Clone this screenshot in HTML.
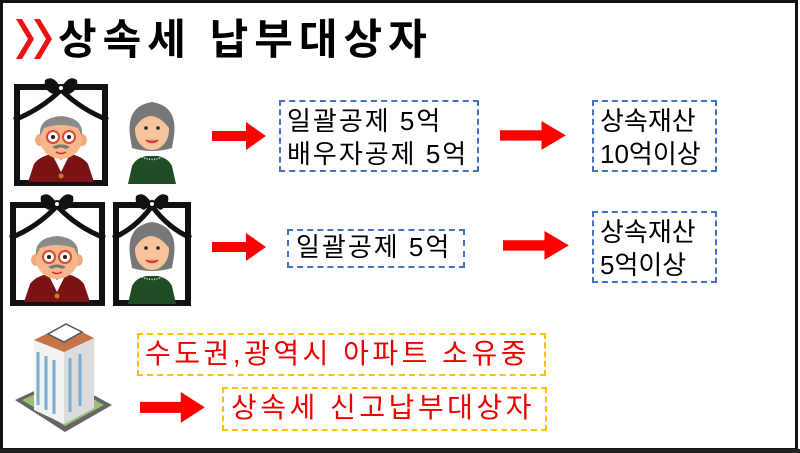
<!DOCTYPE html>
<html><head><meta charset="utf-8">
<style>
html,body{margin:0;padding:0;background:#fff}
#c{position:relative;width:800px;height:453px;overflow:hidden;background:#fff;font-family:"Liberation Sans","Noto Sans CJK KR",sans-serif}
.t{position:absolute;white-space:nowrap;line-height:1}
.bx{position:absolute;box-sizing:border-box}
</style></head><body>
<div id="c">
<svg width="800" height="453" style="position:absolute;left:0;top:0">
<defs>
<g id="gp">
  <path d="M14 98 L20 80 Q26 72 38 70 L56 70 Q68 72 74 80 L80 98 Z" fill="#7a1414"/>
  <path d="M38 70 L47 88 L56 70 Z" fill="#fff"/>
  <path d="M40 70 L47 76 L54 70 Z" fill="#e2462a"/>
  <circle cx="47" cy="92" r="2.5" fill="#c07a3a"/>
  <ellipse cx="26" cy="56" rx="5" ry="6" fill="#f3a97a"/>
  <ellipse cx="68" cy="56" rx="5" ry="6" fill="#f3a97a"/>
  <ellipse cx="47" cy="55" rx="21" ry="20" fill="#f6b68c"/>
  <path d="M26 52 Q24 34 47 32 Q70 34 68 52 L64 44 Q47 38 30 44 Z" fill="#8a8a8a"/>
  <circle cx="39" cy="53" r="6" fill="#fff" stroke="#e2462a" stroke-width="2"/>
  <circle cx="55" cy="53" r="6" fill="#fff" stroke="#e2462a" stroke-width="2"/>
  <circle cx="39" cy="53" r="2" fill="#222"/><circle cx="55" cy="53" r="2" fill="#222"/>
  <path d="M38 63 Q47 58 56 63 L52 65 Q47 62 42 65 Z" fill="#777"/>
  <path d="M42 68 Q47 71 52 68" stroke="#c33" stroke-width="1.5" fill="none"/>
</g>
<g id="gm">
  <path d="M2 88 L6 70 Q10 62 20 60 L32 60 Q42 62 46 70 L50 88 Z" fill="#1f4d25"/>
  <path d="M16 61 Q26 66 36 61" stroke="#cfe" stroke-width="1.5" fill="none" stroke-dasharray="1 1.5"/>
  <path d="M4 40 Q0 10 26 6 Q52 10 48 40 L46 52 Q26 58 6 52 Z" fill="#777"/>
  <ellipse cx="26" cy="34" rx="17" ry="20" fill="#f6c49a"/>
  <path d="M9 32 Q10 14 26 12 Q42 14 43 32 Q34 20 24 20 Q14 22 9 32 Z" fill="#777"/>
  <circle cx="20" cy="32" r="1.8" fill="#222"/><circle cx="32" cy="32" r="1.8" fill="#222"/>
  <path d="M20 44 Q26 49 32 44" stroke="#c33" stroke-width="1.5" fill="#e66"/>
</g>
<g id="bow">
  <path d="M0 0 Q-8 -14 -16 -8 Q-18 2 -8 6 Z M0 0 Q8 -14 16 -8 Q18 2 8 6 Z" fill="#111"/>
  <circle cx="0" cy="0" r="3" fill="#fff" stroke="#111" stroke-width="2"/>
</g>
<g id="arr"><path d="M0 9 L34 9 L34 0 L54 14 L34 28 L34 19 L0 19 Z" fill="#ff0000"/></g>
</defs>

<rect x="1.5" y="1.5" width="795" height="448" fill="none" stroke="#111" stroke-width="3"/>
<rect x="0" y="449" width="800" height="4" fill="#222"/>

<path d="M16 19 L22 19 L34 39 L22 59 L16 59 L28 39 Z" fill="#ee1111"/>
<path d="M34 19 L40 19 L52 39 L40 59 L34 59 L46 39 Z" fill="#ee1111"/>

<rect x="17" y="87" width="88" height="96" fill="#fff" stroke="#111" stroke-width="6"/>
<use href="#gp" x="14" y="84"/>
<path d="M14 120 Q40 110 61 90 Q82 110 108 120" stroke="#111" stroke-width="5" fill="none"/>
<use href="#bow" x="61" y="88"/>
<use href="#gm" x="126" y="96"/>

<rect x="13" y="205" width="89" height="98" fill="#fff" stroke="#111" stroke-width="6"/>
<use href="#gp" x="10" y="204"/>
<path d="M10 238 Q36 228 57 206 Q78 228 105 238" stroke="#111" stroke-width="5" fill="none"/>
<use href="#bow" x="57" y="204"/>
<rect x="116" y="205" width="72" height="98" fill="#fff" stroke="#111" stroke-width="6"/>
<use href="#gm" x="126" y="216"/>
<path d="M113 238 Q136 228 152 206 Q168 228 191 238" stroke="#111" stroke-width="5" fill="none"/>
<use href="#bow" x="152" y="204"/>

<use href="#arr" x="212" y="122"/>
<use href="#arr" x="500" y="121" transform="translate(500 121) scale(1.22 1.03) translate(-500 -121)"/>
<use href="#arr" x="212" y="233"/>
<use href="#arr" x="503" y="231" transform="translate(503 231) scale(1.22 1.03) translate(-503 -231)"/>
<use href="#arr" x="140" y="392" transform="translate(140 392) scale(1.2 1.1) translate(-140 -392)"/>

<path d="M15 400 L62 378 L112 405 L65 432 Z" fill="#666"/>
<path d="M22 400 L62 382 L104 405 L65 426 Z" fill="#9bc07a"/>
<path d="M34 340 L66 324 L94 338 L94 408 L64 424 L34 410 Z" fill="#f2f2f2"/>
<path d="M64 350 L94 338 L94 408 L64 424 Z" fill="#dcdcdc"/>
<path d="M34 340 L66 324 L94 338 L64 352 Z" fill="#c5744a"/>
<path d="M48 334 L66 324 L82 332 L64 342 Z" fill="#fff" stroke="#555" stroke-width="1.5"/>
<g stroke="#7aaed0" stroke-width="3">
<line x1="38" y1="352" x2="38" y2="405"/><line x1="46" y1="356" x2="46" y2="410"/><line x1="54" y1="360" x2="54" y2="414"/>
<line x1="70" y1="358" x2="70" y2="412"/><line x1="80" y1="354" x2="80" y2="406"/>
</g>
</svg>

<div class="t" style="left:58px;top:19px;font-size:42px;font-weight:bold;color:#000;letter-spacing:6px">상속세 납부대상자</div>

<div class="bx" style="left:279px;top:100px;width:200px;height:72px;border:2px dashed #4472c4"></div>
<div class="t" style="left:287px;top:105px;font-size:26px;line-height:33px;color:#000;letter-spacing:2px">일괄공제 5억<br>배우자공제 5억</div>

<div class="bx" style="left:592px;top:100px;width:125px;height:72px;border:2px dashed #4472c4"></div>
<div class="t" style="left:600px;top:105px;font-size:26px;line-height:33px;color:#000">상속재산<br>10억이상</div>

<div class="bx" style="left:287px;top:229px;width:178px;height:39px;border:2px dashed #4472c4"></div>
<div class="t" style="left:296px;top:234px;font-size:26px;color:#000;letter-spacing:2px">일괄공제 5억</div>

<div class="bx" style="left:592px;top:211px;width:125px;height:72px;border:2px dashed #4472c4"></div>
<div class="t" style="left:600px;top:216px;font-size:26px;line-height:33px;color:#000">상속재산<br>5억이상</div>

<div class="bx" style="left:137px;top:333px;width:409px;height:43px;border:2px dashed #ffc000"></div>
<div class="t" style="left:145px;top:340px;font-size:28px;color:#ee0000;letter-spacing:3.5px">수도권,광역시 아파트 소유중</div>

<div class="bx" style="left:222px;top:387px;width:325px;height:44px;border:2px dashed #ffc000"></div>
<div class="t" style="left:231px;top:394px;font-size:28px;color:#ee0000;letter-spacing:3.5px">상속세 신고납부대상자</div>
</div>
</body></html>
